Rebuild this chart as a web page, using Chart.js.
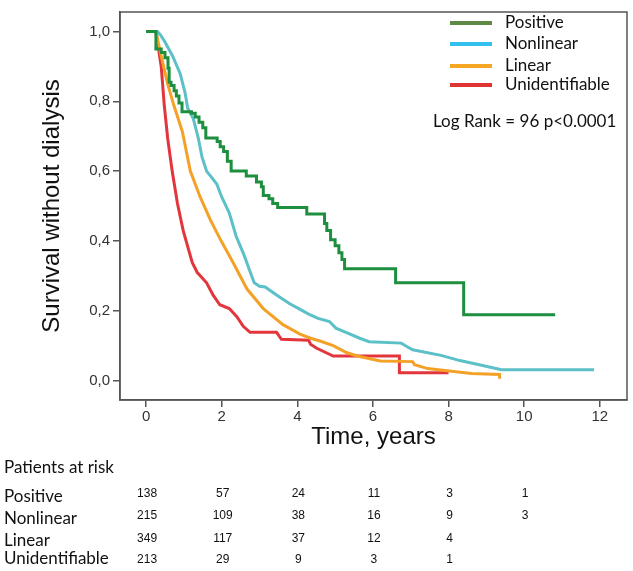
<!DOCTYPE html>
<html>
<head>
<meta charset="utf-8">
<script src="https://cdn.jsdelivr.net/npm/chart.js@4/dist/chart.umd.min.js"></script>
<style>
  html, body { margin: 0; padding: 0; background: #fff; }
  #wrap { width: 633px; height: 571px; position: relative; }
</style>
</head>
<body>
<div id="wrap"><canvas id="km"></canvas></div>
<script>
// group names (legend + risk table rows)
const groups = ["Positive", "Nonlinear", "Linear", "Unidentifiable"];

// Kaplan-Meier curves (time in years, survival)
const posTime = [0, 0.26, 0.4, 0.5, 0.58, 0.61, 0.66, 0.74, 0.8, 0.87, 0.95, 1.2, 1.3, 1.4, 1.5, 1.58, 1.88, 1.96, 2.05, 2.15, 2.25, 2.65, 2.92, 3.05, 3.1, 3.25, 3.35, 3.48, 4.25, 4.72, 4.78, 4.88, 5.0, 5.1, 5.18, 5.25, 6.6, 8.4, 10.82];
const posSurv = [1, 0.95, 0.94, 0.925, 0.895, 0.855, 0.845, 0.83, 0.815, 0.795, 0.77, 0.766, 0.755, 0.74, 0.724, 0.695, 0.685, 0.67, 0.656, 0.628, 0.6, 0.586, 0.569, 0.555, 0.53, 0.521, 0.507, 0.496, 0.477, 0.45, 0.43, 0.403, 0.386, 0.366, 0.347, 0.32, 0.28, 0.188, 0.188];

const nonTime = [0, 0.3, 0.38, 0.5, 0.7, 0.9, 1.03, 1.1, 1.25, 1.38, 1.48, 1.6, 1.87, 2.0, 2.2, 2.38, 2.6, 2.73, 2.86, 3.0, 3.15, 3.45, 3.8, 4.05, 4.3, 4.55, 4.85, 5.02, 5.35, 5.65, 5.9, 6.75, 6.85, 7.05, 7.8, 8.3, 8.9, 9.4, 11.85];
const nonSurv = [1, 1, 0.99, 0.97, 0.93, 0.88, 0.825, 0.78, 0.75, 0.695, 0.64, 0.6, 0.563, 0.526, 0.48, 0.414, 0.357, 0.318, 0.28, 0.27, 0.268, 0.245, 0.22, 0.205, 0.19, 0.178, 0.169, 0.15, 0.135, 0.121, 0.111, 0.107, 0.1, 0.088, 0.072, 0.057, 0.043, 0.031, 0.031];

const linTime = [0, 0.26, 0.4, 0.57, 0.73, 0.96, 1.17, 1.43, 1.7, 1.97, 2.3, 2.67, 3.1, 3.62, 4.07, 4.35, 4.6, 4.95, 5.3, 5.58, 6.2, 7.05, 7.1, 7.45, 8.6, 9.35, 9.35];
const linSurv = [1, 1, 0.93, 0.85, 0.79, 0.713, 0.6, 0.526, 0.46, 0.403, 0.338, 0.262, 0.206, 0.16, 0.133, 0.121, 0.113, 0.1, 0.08, 0.07, 0.056, 0.054, 0.045, 0.034, 0.02, 0.017, 0.005];

const uniTime = [0, 0.26, 0.4, 0.48, 0.57, 0.69, 0.83, 0.98, 1.22, 1.35, 1.6, 1.77, 1.95, 2.2, 2.4, 2.57, 2.75, 3.45, 3.58, 4.3, 4.35, 4.5, 4.95, 6.7, 6.7, 8.0];
const uniSurv = [1, 1, 0.9, 0.79, 0.695, 0.6, 0.507, 0.43, 0.338, 0.31, 0.28, 0.245, 0.217, 0.206, 0.183, 0.155, 0.138, 0.138, 0.118, 0.115, 0.104, 0.093, 0.07, 0.07, 0.022, 0.022];

// axis ticks
const xTicks = [0, 2, 4, 6, 8, 10, 12];
const yTicks = [0, 0.2, 0.4, 0.6, 0.8, 1.0];

// patients at risk, at years 0,2,4,...
const riskYears = [0, 2, 4, 6, 8, 10];
const riskPositive = [138, 57, 24, 11, 3, 1];
const riskNonlinear = [215, 109, 38, 16, 9, 3];
const riskLinear = [349, 117, 37, 12, 4];
const riskUnident = [213, 29, 9, 3, 1];

const logRankText = "Log Rank = 96 p<0.0001";

const curveColors = ["#1d8f3e", "#5bc0c8", "#f4a128", "#e2363c"];
const legendColors = ["#5e8a45", "#33c0ee", "#f5a623", "#e03333"];

const pts = (t, s) => t.map((v, i) => ({ x: v, y: s[i] }));

const humanist = "Lato, 'Open Sans', sans-serif";
const narrow = "'Liberation Sans Narrow', 'Liberation Sans', Arial, sans-serif";

const extras = {
  id: "extras",
  afterDraw(chart) {
    const { ctx, chartArea: a } = chart;
    const xs = chart.scales.x;
    ctx.save();
    ctx.strokeStyle = "#555";
    ctx.lineWidth = 1.5;
    ctx.strokeRect(a.left, a.top, a.right - a.left, a.bottom - a.top);

    // legend
    const legendY = [23, 44, 66, 85];
    ctx.font = "17px " + humanist;
    ctx.textBaseline = "middle";
    ctx.textAlign = "left";
    groups.forEach((g, i) => {
      ctx.strokeStyle = legendColors[i];
      ctx.lineWidth = 4;
      ctx.beginPath();
      ctx.moveTo(450, legendY[i]);
      ctx.lineTo(492, legendY[i]);
      ctx.stroke();
      ctx.fillStyle = "#111";
      ctx.fillText(g, 505, legendY[i]);
    });
    ctx.fillText(logRankText, 433, 122);

    // risk table
    ctx.fillText("Patients at risk", 4, 468);
    const rowY = [497, 519, 541, 559];
    const numY = [494, 516, 539, 560];
    const rows = [riskPositive, riskNonlinear, riskLinear, riskUnident];
    rows.forEach((vals, r) => {
      ctx.font = "17px " + humanist;
      ctx.textAlign = "left";
      ctx.fillText(groups[r], 4, rowY[r]);
      ctx.font = "12px " + narrow;
      ctx.textAlign = "center";
      vals.forEach((v, j) => {
        ctx.fillText(String(v), xs.getPixelForValue(riskYears[j]) + 1, numY[r]);
      });
    });
    ctx.restore();
  }
};

new Chart(document.getElementById("km"), {
  type: "line",
  data: {
    datasets: [
      { label: groups[0], data: pts(posTime, posSurv), borderColor: curveColors[0], stepped: "before" },
      { label: groups[1], data: pts(nonTime, nonSurv), borderColor: curveColors[1] },
      { label: groups[2], data: pts(linTime, linSurv), borderColor: curveColors[2] },
      { label: groups[3], data: pts(uniTime, uniSurv), borderColor: curveColors[3] }
    ]
  },
  options: {
    responsive: true,
    maintainAspectRatio: false,
    animation: false,
    layout: { padding: { left: 0, top: 4, right: 6, bottom: 115 } },
    elements: {
      point: { radius: 0 },
      line: { borderWidth: 3, tension: 0, fill: false, borderJoinStyle: "miter", borderCapStyle: "butt" }
    },
    plugins: { legend: { display: false }, tooltip: { enabled: false } },
    scales: {
      x: {
        type: "linear",
        min: -0.69,
        max: 12.72,
        afterFit: (s) => { s.height = 56; },
        afterBuildTicks: (s) => { s.ticks = xTicks.map((v) => ({ value: v })); },
        ticks: { color: "#333", padding: 1, maxRotation: 0, font: { family: narrow, size: 15 } },
        grid: { display: true, drawOnChartArea: false, tickLength: 7, color: "#555", lineWidth: 1.5 },
        border: { display: true, color: "#555", width: 1.5 },
        title: { display: true, text: "Time, years", color: "#111", font: { family: "'Liberation Sans', Arial, sans-serif", size: 24 }, padding: { top: 0, bottom: 4 } }
      },
      y: {
        min: -0.056,
        max: 1.056,
        afterFit: (s) => { s.width = 120; },
        afterBuildTicks: (s) => { s.ticks = yTicks.map((v) => ({ value: v })); },
        ticks: { color: "#333", padding: 3, font: { family: narrow, size: 15 }, callback: (v) => Number(v).toFixed(1).replace(".", ",") },
        grid: { display: true, drawOnChartArea: false, tickLength: 7, color: "#555", lineWidth: 1.5 },
        border: { display: true, color: "#555", width: 1.5 },
        title: { display: true, text: "Survival without dialysis", color: "#111", font: { family: "'Liberation Sans', Arial, sans-serif", size: 24 }, padding: { top: 38, bottom: 0 } }
      }
    }
  },
  plugins: [extras]
});
</script>
</body>
</html>
